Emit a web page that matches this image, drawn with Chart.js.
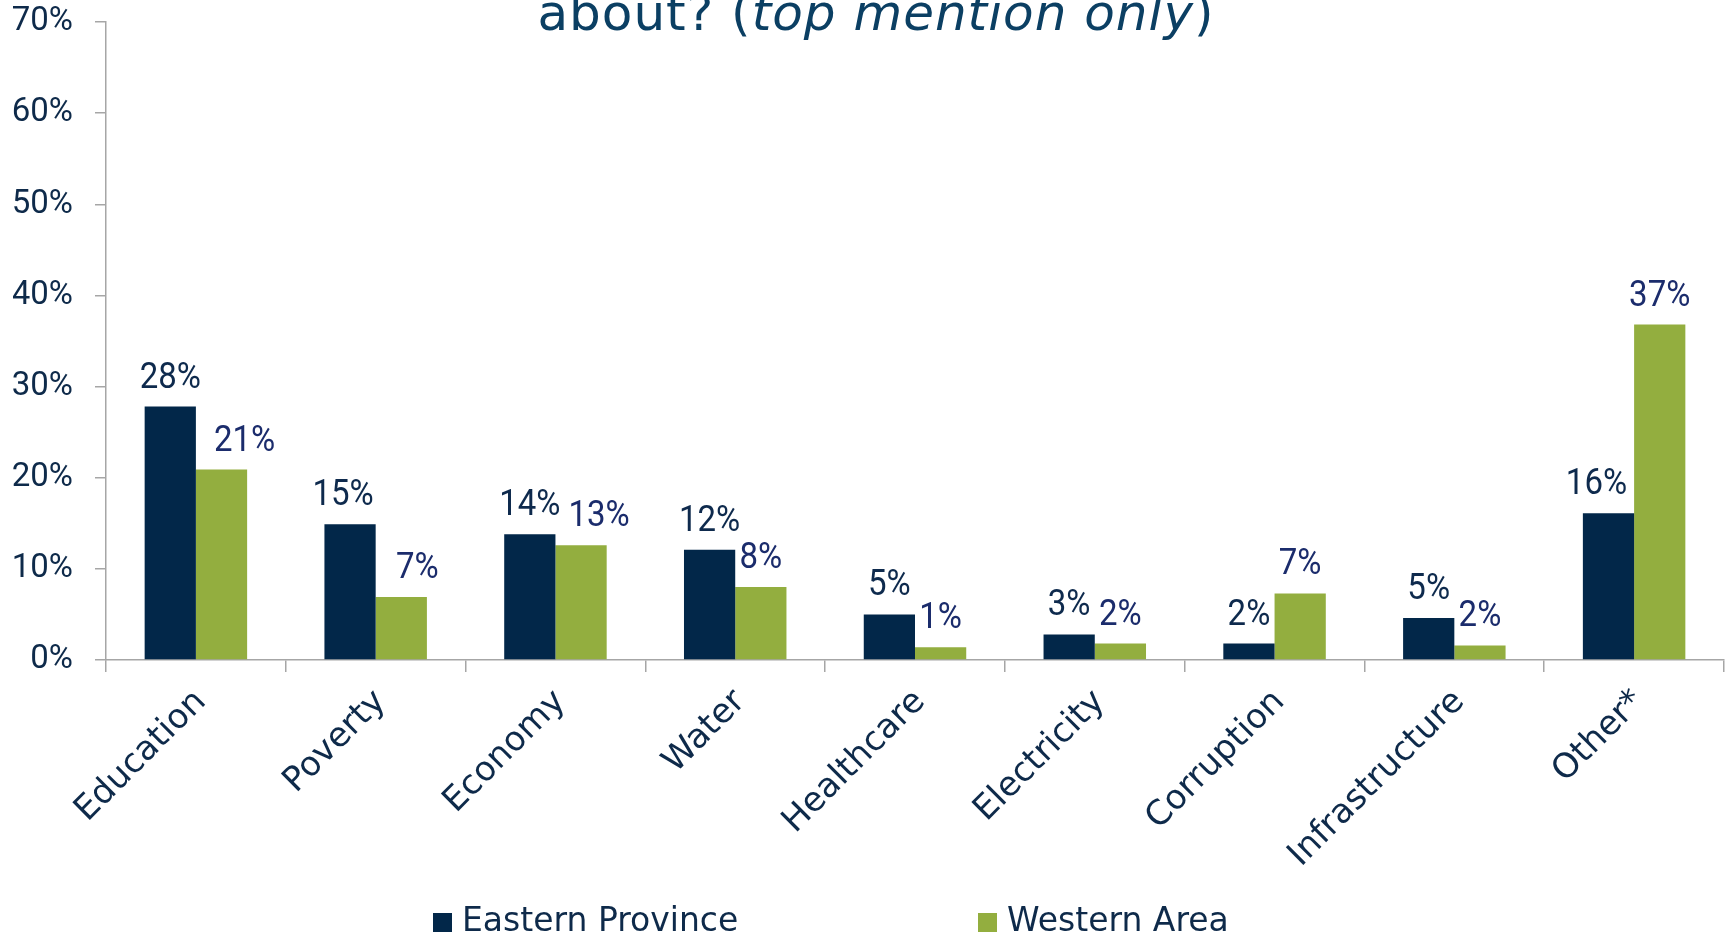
<!DOCTYPE html>
<html>
<head>
<meta charset="utf-8">
<script src="https://cdn.jsdelivr.net/npm/chart.js@4.4.1/dist/chart.umd.min.js"></script>
<style>
  html, body { margin: 0; padding: 0; background: #fff; overflow: hidden; }
  #wrap { position: relative; width: 1731px; height: 941px; }
  #chart { position: absolute; left: 0; top: 0; }
  #title {
    position: absolute; left: 0; top: -12px; width: 1752px;
    text-align: center; white-space: nowrap;
    font-family: "DejaVu Sans", sans-serif; font-size: 50px; line-height: 50px;
    letter-spacing: 1px; color: #0b3f63;
  }
  .legend-item {
    position: absolute; top: 899px; white-space: nowrap;
    font-family: "DejaVu Sans", sans-serif; font-size: 33px; line-height: 42px; color: #0e2a4a;
  }
  .legend-box { display: inline-block; width: 19px; height: 19px; margin-right: 10px; vertical-align: -1px; }
</style>
</head>
<body>
<div id="wrap">
  <canvas id="chart" width="1731" height="941"></canvas>
  <div id="title">about? (<i>top mention only</i>)</div>
  <div id="legend"></div>
</div>
<script>
// ============================================
// البيانات
// ============================================
const categories = ["Education", "Poverty", "Economy", "Water", "Healthcare", "Electricity", "Corruption", "Infrastructure", "Other*"];
const seriesNames = ["Eastern Province", "Western Area"];
const easternValues = [27.8, 14.9, 13.8, 12.1, 5.0, 2.8, 1.8, 4.6, 16.1];
const westernValues = [20.9, 6.9, 12.6, 8.0, 1.4, 1.8, 7.3, 1.6, 36.8];
const yTickValues = [0, 10, 20, 30, 40, 50, 60, 70];

// ============================================
// الألوان والإزاحات
// ============================================
const NAVY = "#022749";
const GREEN = "#93ae3f";
const AXIS_GREY = "#a6a6a6";
const seriesColors = [NAVY, GREEN];
const labelColors = ["#0e2a4d", "#1b2c6c"];
// some labels were dragged sideways in the original
const easternLabelShift = [0, -7, 0, 0, 0, 0, 0, 0, -12];
const westernLabelShift = [23, 16, 18, 0, 0, 0, 0, 0, 0];

const valueLabels = {
  id: "valueLabels",
  afterDatasetsDraw(chart) {
    const ctx = chart.ctx;
    ctx.save();
    ctx.font = "33px Roboto";
    ctx.textAlign = "center";
    ctx.textBaseline = "alphabetic";
    chart.data.datasets.forEach((ds, di) => {
      const meta = chart.getDatasetMeta(di);
      const shifts = di === 0 ? easternLabelShift : westernLabelShift;
      ctx.fillStyle = labelColors[di];
      meta.data.forEach((bar, i) => {
        // the original numbers are a bit taller than Roboto
        const x = bar.x + shifts[i];
        const y = bar.y - 19;
        ctx.save();
        ctx.translate(x, y);
        ctx.scale(1, 1.12);
        ctx.fillText(Math.round(ds.data[i]) + "%", 0, 0);
        ctx.restore();
      });
    });
    ctx.restore();
  },
};

const ctx = document.getElementById("chart").getContext("2d");
new Chart(ctx, {
  type: "bar",
  data: {
    labels: categories,
    datasets: [
      { label: seriesNames[0], data: easternValues, backgroundColor: NAVY },
      { label: seriesNames[1], data: westernValues, backgroundColor: GREEN },
    ],
  },
  options: {
    responsive: false,
    animation: false,
    events: [],
    categoryPercentage: 0.57,
    barPercentage: 1.0,
    layout: { padding: { top: 22, left: 13, right: 7, bottom: 0 } },
    plugins: {
      legend: { display: false },
      tooltip: { enabled: false },
    },
    scales: {
      x: {
        grid: { drawOnChartArea: false, drawTicks: true, tickLength: 12, color: AXIS_GREY, lineWidth: 1.5 },
        border: { color: AXIS_GREY, width: 1.5 },
        ticks: {
          color: "#0e2a4a",
          font: { family: "DejaVu Sans", size: 34 },
          minRotation: 45,
          maxRotation: 45,
          autoSkip: false,
          padding: 10,
          labelOffset: 5,
        },
        afterFit: (scale) => {
          scale.height = 281;
          scale.paddingTop = 0;
        },
      },
      y: {
        min: 0,
        max: 70,
        grid: { drawOnChartArea: false, drawTicks: true, tickLength: 11, color: AXIS_GREY, lineWidth: 1.5 },
        border: { color: AXIS_GREY, width: 1.5 },
        afterBuildTicks: (scale) => { scale.ticks = yTickValues.map((v) => ({ value: v })); },
        ticks: {
          color: "#0e2a4a",
          font: { family: "Roboto", size: 33 },
          padding: 22,
          callback: (v) => v + "%",
        },
        afterFit: (scale) => {
          scale.width = 93;
          scale.paddingTop = 0;
          scale.paddingBottom = 0;
        },
      },
    },
  },
  plugins: [valueLabels],
});

// ============================================
// وسيلة الإيضاح
// ============================================
const legendLefts = [433, 978];
const legendEl = document.getElementById("legend");
seriesNames.forEach((name, i) => {
  const item = document.createElement("div");
  item.className = "legend-item";
  item.style.left = legendLefts[i] + "px";
  item.innerHTML = `<span class="legend-box" style="background:${seriesColors[i]}"></span>${name}`;
  legendEl.appendChild(item);
});
</script>
</body>
</html>
